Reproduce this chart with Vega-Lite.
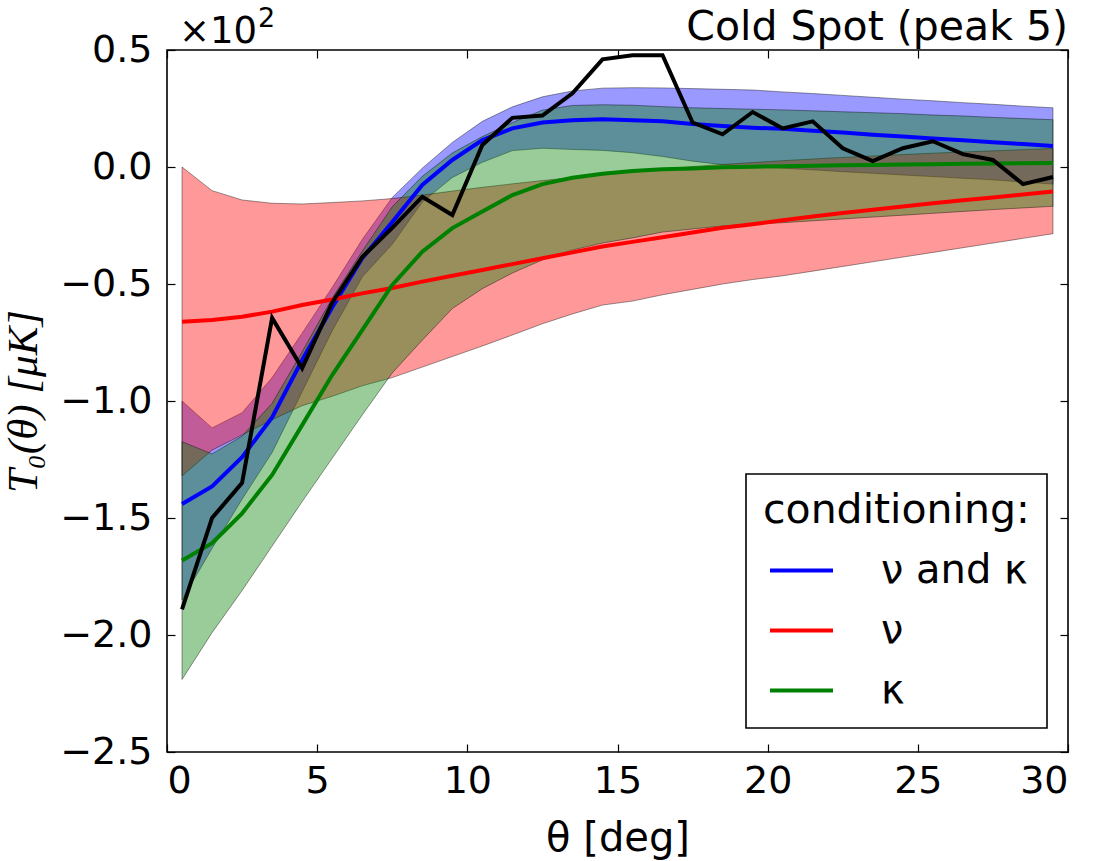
{
  "$schema": "https://vega.github.io/schema/vega-lite/v6.json",
  "width": 901,
  "height": 702,
  "autosize": {"type": "none"},
  "padding": {"left": 167, "top": 50, "right": 28, "bottom": 109},
  "background": "white",
  "config": {
    "view": {"stroke": "black", "strokeWidth": 1.6},
    "font": "DejaVu Sans",
    "axis": {"grid": false, "domain": false, "tickColor": "black", "tickWidth": 1.2, "tickSize": -8, "labelColor": "black", "titleColor": "black", "labelFont": "DejaVu Sans", "titleFont": "DejaVu Sans", "titleFontWeight": "normal"},
    "legend": {"strokeWidth": 1.6}
  },
  "datasets": {
    "bands": [
      {"theta": 0.5, "series": "ν and κ", "mean": -1.44, "lo": -1.85, "hi": -1.0},
      {"theta": 1.5, "series": "ν and κ", "mean": -1.365, "lo": -1.63, "hi": -1.115},
      {"theta": 2.5, "series": "ν and κ", "mean": -1.24, "lo": -1.42, "hi": -1.05},
      {"theta": 3.5, "series": "ν and κ", "mean": -1.07, "lo": -1.22, "hi": -0.9},
      {"theta": 4.5, "series": "ν and κ", "mean": -0.825, "lo": -0.96, "hi": -0.71},
      {"theta": 5.5, "series": "ν and κ", "mean": -0.6, "lo": -0.7, "hi": -0.515},
      {"theta": 6.5, "series": "ν and κ", "mean": -0.39, "lo": -0.47, "hi": -0.31},
      {"theta": 7.5, "series": "ν and κ", "mean": -0.235, "lo": -0.33, "hi": -0.13},
      {"theta": 8.5, "series": "ν and κ", "mean": -0.077, "lo": -0.15, "hi": -0.005},
      {"theta": 9.5, "series": "ν and κ", "mean": 0.03, "lo": -0.045, "hi": 0.105},
      {"theta": 10.5, "series": "ν and κ", "mean": 0.115, "lo": 0.02, "hi": 0.195},
      {"theta": 11.5, "series": "ν and κ", "mean": 0.165, "lo": 0.07, "hi": 0.257},
      {"theta": 12.5, "series": "ν and κ", "mean": 0.19, "lo": 0.08, "hi": 0.3},
      {"theta": 13.5, "series": "ν and κ", "mean": 0.2, "lo": 0.075, "hi": 0.325},
      {"theta": 14.5, "series": "ν and κ", "mean": 0.204, "lo": 0.071, "hi": 0.337},
      {"theta": 15.5, "series": "ν and κ", "mean": 0.2, "lo": 0.061, "hi": 0.339},
      {"theta": 16.5, "series": "ν and κ", "mean": 0.195, "lo": 0.045, "hi": 0.338},
      {"theta": 17.5, "series": "ν and κ", "mean": 0.184, "lo": 0.025, "hi": 0.335},
      {"theta": 18.5, "series": "ν and κ", "mean": 0.175, "lo": 0.01, "hi": 0.332},
      {"theta": 19.5, "series": "ν and κ", "mean": 0.168, "lo": 0.0, "hi": 0.329},
      {"theta": 20.5, "series": "ν and κ", "mean": 0.163, "lo": -0.005, "hi": 0.321},
      {"theta": 21.5, "series": "ν and κ", "mean": 0.155, "lo": -0.012, "hi": 0.314},
      {"theta": 22.5, "series": "ν and κ", "mean": 0.147, "lo": -0.02, "hi": 0.306},
      {"theta": 23.5, "series": "ν and κ", "mean": 0.138, "lo": -0.027, "hi": 0.298},
      {"theta": 24.5, "series": "ν and κ", "mean": 0.13, "lo": -0.034, "hi": 0.29},
      {"theta": 25.5, "series": "ν and κ", "mean": 0.122, "lo": -0.041, "hi": 0.283},
      {"theta": 26.5, "series": "ν and κ", "mean": 0.114, "lo": -0.048, "hi": 0.275},
      {"theta": 27.5, "series": "ν and κ", "mean": 0.106, "lo": -0.055, "hi": 0.268},
      {"theta": 28.5, "series": "ν and κ", "mean": 0.098, "lo": -0.064, "hi": 0.26},
      {"theta": 29.5, "series": "ν and κ", "mean": 0.09, "lo": -0.073, "hi": 0.253},
      {"theta": 0.5, "series": "ν", "mean": -0.661, "lo": -1.32, "hi": 0.0},
      {"theta": 1.5, "series": "ν", "mean": -0.654, "lo": -1.21, "hi": -0.101},
      {"theta": 2.5, "series": "ν", "mean": -0.64, "lo": -1.145, "hi": -0.141},
      {"theta": 3.5, "series": "ν", "mean": -0.618, "lo": -1.08, "hi": -0.155},
      {"theta": 4.5, "series": "ν", "mean": -0.59, "lo": -1.02, "hi": -0.158},
      {"theta": 5.5, "series": "ν", "mean": -0.566, "lo": -0.98, "hi": -0.152},
      {"theta": 6.5, "series": "ν", "mean": -0.54, "lo": -0.935, "hi": -0.145},
      {"theta": 7.5, "series": "ν", "mean": -0.517, "lo": -0.9, "hi": -0.135},
      {"theta": 8.5, "series": "ν", "mean": -0.49, "lo": -0.855, "hi": -0.12},
      {"theta": 9.5, "series": "ν", "mean": -0.465, "lo": -0.81, "hi": -0.103},
      {"theta": 10.5, "series": "ν", "mean": -0.44, "lo": -0.765, "hi": -0.087},
      {"theta": 11.5, "series": "ν", "mean": -0.415, "lo": -0.718, "hi": -0.072},
      {"theta": 12.5, "series": "ν", "mean": -0.39, "lo": -0.67, "hi": -0.058},
      {"theta": 13.5, "series": "ν", "mean": -0.365, "lo": -0.628, "hi": -0.045},
      {"theta": 14.5, "series": "ν", "mean": -0.34, "lo": -0.59, "hi": -0.032},
      {"theta": 15.5, "series": "ν", "mean": -0.32, "lo": -0.573, "hi": -0.02},
      {"theta": 16.5, "series": "ν", "mean": -0.3, "lo": -0.546, "hi": -0.009},
      {"theta": 17.5, "series": "ν", "mean": -0.28, "lo": -0.523, "hi": 0.002},
      {"theta": 18.5, "series": "ν", "mean": -0.26, "lo": -0.5, "hi": 0.011},
      {"theta": 19.5, "series": "ν", "mean": -0.245, "lo": -0.481, "hi": 0.019},
      {"theta": 20.5, "series": "ν", "mean": -0.228, "lo": -0.465, "hi": 0.027},
      {"theta": 21.5, "series": "ν", "mean": -0.212, "lo": -0.445, "hi": 0.034},
      {"theta": 22.5, "series": "ν", "mean": -0.197, "lo": -0.425, "hi": 0.041},
      {"theta": 23.5, "series": "ν", "mean": -0.183, "lo": -0.405, "hi": 0.047},
      {"theta": 24.5, "series": "ν", "mean": -0.169, "lo": -0.385, "hi": 0.053},
      {"theta": 25.5, "series": "ν", "mean": -0.155, "lo": -0.365, "hi": 0.059},
      {"theta": 26.5, "series": "ν", "mean": -0.142, "lo": -0.345, "hi": 0.064},
      {"theta": 27.5, "series": "ν", "mean": -0.13, "lo": -0.325, "hi": 0.069},
      {"theta": 28.5, "series": "ν", "mean": -0.118, "lo": -0.305, "hi": 0.074},
      {"theta": 29.5, "series": "ν", "mean": -0.105, "lo": -0.285, "hi": 0.079},
      {"theta": 0.5, "series": "κ", "mean": -1.682, "lo": -2.19, "hi": -1.174},
      {"theta": 1.5, "series": "κ", "mean": -1.608, "lo": -1.99, "hi": -1.226},
      {"theta": 2.5, "series": "κ", "mean": -1.48, "lo": -1.81, "hi": -1.15},
      {"theta": 3.5, "series": "κ", "mean": -1.316, "lo": -1.62, "hi": -1.01},
      {"theta": 4.5, "series": "κ", "mean": -1.103, "lo": -1.43, "hi": -0.79},
      {"theta": 5.5, "series": "κ", "mean": -0.889, "lo": -1.245, "hi": -0.56},
      {"theta": 6.5, "series": "κ", "mean": -0.697, "lo": -1.06, "hi": -0.36},
      {"theta": 7.5, "series": "κ", "mean": -0.504, "lo": -0.88, "hi": -0.17},
      {"theta": 8.5, "series": "κ", "mean": -0.362, "lo": -0.74, "hi": -0.04},
      {"theta": 9.5, "series": "κ", "mean": -0.261, "lo": -0.605, "hi": 0.06},
      {"theta": 10.5, "series": "κ", "mean": -0.19, "lo": -0.52, "hi": 0.13},
      {"theta": 11.5, "series": "κ", "mean": -0.12, "lo": -0.453, "hi": 0.19},
      {"theta": 12.5, "series": "κ", "mean": -0.073, "lo": -0.397, "hi": 0.243},
      {"theta": 13.5, "series": "κ", "mean": -0.046, "lo": -0.355, "hi": 0.263},
      {"theta": 14.5, "series": "κ", "mean": -0.029, "lo": -0.325, "hi": 0.266},
      {"theta": 15.5, "series": "κ", "mean": -0.017, "lo": -0.303, "hi": 0.264},
      {"theta": 16.5, "series": "κ", "mean": -0.01, "lo": -0.278, "hi": 0.258},
      {"theta": 17.5, "series": "κ", "mean": -0.006, "lo": -0.265, "hi": 0.253},
      {"theta": 18.5, "series": "κ", "mean": -0.001, "lo": -0.252, "hi": 0.25},
      {"theta": 19.5, "series": "κ", "mean": 0.001, "lo": -0.244, "hi": 0.247},
      {"theta": 20.5, "series": "κ", "mean": 0.003, "lo": -0.238, "hi": 0.244},
      {"theta": 21.5, "series": "κ", "mean": 0.005, "lo": -0.23, "hi": 0.24},
      {"theta": 22.5, "series": "κ", "mean": 0.007, "lo": -0.222, "hi": 0.236},
      {"theta": 23.5, "series": "κ", "mean": 0.009, "lo": -0.214, "hi": 0.232},
      {"theta": 24.5, "series": "κ", "mean": 0.011, "lo": -0.206, "hi": 0.228},
      {"theta": 25.5, "series": "κ", "mean": 0.012, "lo": -0.198, "hi": 0.222},
      {"theta": 26.5, "series": "κ", "mean": 0.014, "lo": -0.19, "hi": 0.218},
      {"theta": 27.5, "series": "κ", "mean": 0.015, "lo": -0.182, "hi": 0.212},
      {"theta": 28.5, "series": "κ", "mean": 0.016, "lo": -0.175, "hi": 0.207},
      {"theta": 29.5, "series": "κ", "mean": 0.017, "lo": -0.168, "hi": 0.202}
    ],
    "obs": [
      {"theta": 0.5, "obs": -1.89},
      {"theta": 1.5, "obs": -1.5},
      {"theta": 2.5, "obs": -1.35},
      {"theta": 3.5, "obs": -0.645},
      {"theta": 4.5, "obs": -0.86},
      {"theta": 5.5, "obs": -0.58},
      {"theta": 6.5, "obs": -0.385},
      {"theta": 7.5, "obs": -0.26},
      {"theta": 8.5, "obs": -0.127},
      {"theta": 9.5, "obs": -0.205},
      {"theta": 10.5, "obs": 0.094},
      {"theta": 11.5, "obs": 0.21},
      {"theta": 12.5, "obs": 0.22},
      {"theta": 13.5, "obs": 0.315},
      {"theta": 14.5, "obs": 0.46},
      {"theta": 15.5, "obs": 0.478},
      {"theta": 16.5, "obs": 0.478},
      {"theta": 17.5, "obs": 0.19},
      {"theta": 18.5, "obs": 0.14},
      {"theta": 19.5, "obs": 0.235},
      {"theta": 20.5, "obs": 0.165},
      {"theta": 21.5, "obs": 0.195},
      {"theta": 22.5, "obs": 0.08},
      {"theta": 23.5, "obs": 0.025},
      {"theta": 24.5, "obs": 0.08},
      {"theta": 25.5, "obs": 0.11},
      {"theta": 26.5, "obs": 0.055},
      {"theta": 27.5, "obs": 0.03},
      {"theta": 28.5, "obs": -0.073},
      {"theta": 29.5, "obs": -0.043}
    ],
    "notes": [
      {"x": 0, "y": 0.5, "label": "×10", "kind": "offset"},
      {"x": 0, "y": 0.5, "label": "2", "kind": "exponent"},
      {"x": 30, "y": 0.5, "label": "Cold Spot (peak 5)", "kind": "title"}
    ]
  },
  "resolve": {"axis": {"x": "independent", "y": "independent"}},
  "layer": [
    {
      "data": {"name": "bands"},
      "transform": [{"filter": "datum.series === 'ν and κ'"}],
      "mark": {"type": "area", "fill": "#0000ff", "fillOpacity": 0.4, "stroke": "black", "strokeOpacity": 0.4, "strokeWidth": 1},
      "encoding": {
        "x": {"field": "theta", "type": "quantitative", "scale": {"domain": [0, 30], "nice": false, "zero": false},
              "axis": {"orient": "bottom", "values": [0, 5, 10, 15, 20, 25, 30], "format": "d", "labelFontSize": 38, "labelPadding": 18, "title": "θ [deg]", "titleFontSize": 40, "titlePadding": 18}},
        "y": {"field": "lo", "type": "quantitative", "scale": {"domain": [-2.5, 0.5], "nice": false, "zero": false},
              "axis": {"orient": "left", "values": [-2.5, -2, -1.5, -1, -0.5, 0, 0.5], "format": ".1f", "labelFontSize": 38, "labelPadding": 23, "title": "T₀(θ) [μK]", "titleFont": "Liberation Serif", "titleFontStyle": "italic", "titleFontSize": 43, "titlePadding": 14}},
        "y2": {"field": "hi"}
      }
    },
    {
      "data": {"name": "bands"},
      "transform": [{"filter": "datum.series === 'ν'"}],
      "mark": {"type": "area", "fill": "#ff0000", "fillOpacity": 0.4, "stroke": "black", "strokeOpacity": 0.4, "strokeWidth": 1},
      "encoding": {
        "x": {"field": "theta", "type": "quantitative", "axis": null},
        "y": {"field": "lo", "type": "quantitative", "axis": null},
        "y2": {"field": "hi"}
      }
    },
    {
      "data": {"name": "bands"},
      "transform": [{"filter": "datum.series === 'κ'"}],
      "mark": {"type": "area", "fill": "#008000", "fillOpacity": 0.4, "stroke": "black", "strokeOpacity": 0.4, "strokeWidth": 1},
      "encoding": {
        "x": {"field": "theta", "type": "quantitative", "axis": null},
        "y": {"field": "lo", "type": "quantitative", "axis": null},
        "y2": {"field": "hi"}
      }
    },
    {
      "data": {"name": "bands"},
      "mark": {"type": "line", "strokeWidth": 4},
      "encoding": {
        "x": {"field": "theta", "type": "quantitative", "axis": null},
        "y": {"field": "mean", "type": "quantitative", "axis": null},
        "color": {"field": "series", "type": "nominal",
                  "scale": {"domain": ["ν and κ", "ν", "κ"], "range": ["#0000ff", "#ff0000", "#008000"]},
                  "legend": {"orient": "none", "legendX": 579, "legendY": 424, "title": "conditioning:", "titleLimit": 500, "titleFontSize": 41, "titleFont": "DejaVu Sans", "titleFontWeight": "normal", "titleColor": "black", "labelFontSize": 40, "labelFont": "DejaVu Sans", "labelColor": "black", "labelLimit": 500, "symbolType": "stroke", "symbolStrokeWidth": 4, "symbolSize": 3969, "symbolOffset": 5, "strokeColor": "black", "fillColor": "white", "padding": 17, "labelOffset": 46, "rowPadding": 6, "titlePadding": 5}}
      }
    },
    {
      "data": {"name": "obs"},
      "mark": {"type": "line", "color": "black", "strokeWidth": 4},
      "encoding": {
        "x": {"field": "theta", "type": "quantitative",
              "axis": {"orient": "top", "values": [0, 5, 10, 15, 20, 25, 30], "labels": false, "title": null}},
        "y": {"field": "obs", "type": "quantitative",
              "axis": {"orient": "right", "values": [-2.5, -2, -1.5, -1, -0.5, 0, 0.5], "labels": false, "title": null}}
      }
    },
    {
      "data": {"name": "notes"},
      "transform": [{"filter": "datum.kind === 'offset'"}],
      "mark": {"type": "text", "align": "left", "baseline": "alphabetic", "dx": 12, "dy": -7, "fontSize": 37, "font": "DejaVu Sans", "color": "black"},
      "encoding": {
        "x": {"field": "x", "type": "quantitative", "axis": null},
        "y": {"field": "y", "type": "quantitative", "axis": null},
        "text": {"field": "label"}
      }
    },
    {
      "data": {"name": "notes"},
      "transform": [{"filter": "datum.kind === 'exponent'"}],
      "mark": {"type": "text", "align": "left", "baseline": "alphabetic", "dx": 91, "dy": -23, "fontSize": 27, "font": "DejaVu Sans", "color": "black"},
      "encoding": {
        "x": {"field": "x", "type": "quantitative", "axis": null},
        "y": {"field": "y", "type": "quantitative", "axis": null},
        "text": {"field": "label"}
      }
    },
    {
      "data": {"name": "notes"},
      "transform": [{"filter": "datum.kind === 'title'"}],
      "mark": {"type": "text", "align": "right", "baseline": "alphabetic", "dx": 0, "dy": -10, "fontSize": 41, "font": "DejaVu Sans", "color": "black"},
      "encoding": {
        "x": {"field": "x", "type": "quantitative", "axis": null},
        "y": {"field": "y", "type": "quantitative", "axis": null},
        "text": {"field": "label"}
      }
    }
  ]
}
